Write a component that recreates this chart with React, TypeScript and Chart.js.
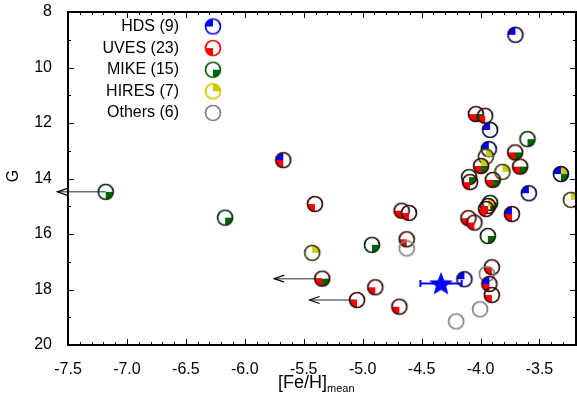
import React, { useEffect, useRef } from "react";
import { Chart, registerables } from "chart.js";
Chart.register(...registerables);

// ---- data ----
const xTickValues = [-7.5, -7.0, -6.5, -6.0, -5.5, -5.0, -4.5, -4.0, -3.5];
const yTickValues = [8, 10, 12, 14, 16, 18, 20];

const starFeH = [-3.704, -7.18, -6.167, -5.674, -5.405, -5.428, -5.343, -5.048, -4.921, -4.893, -4.689, -4.669, -4.607, -4.626, -4.626, -4.040, -3.961, -3.919, -3.930, -3.955, -3.995, -3.896, -3.814, -4.097, -4.089, -3.602, -3.706, -3.664, -3.318, -3.590, -3.233, -3.734, -3.919, -3.936, -3.953, -4.103, -4.052, -3.938, -3.904, -3.947, -3.925, -3.904, -4.137, -4.004, -4.207];
const starG = [8.82, 14.48, 15.41, 13.34, 14.92, 16.68, 17.61, 18.38, 16.39, 17.92, 18.62, 15.16, 15.24, 16.19, 16.52, 11.68, 11.74, 12.25, 12.94, 13.21, 13.55, 14.05, 13.76, 13.95, 14.13, 12.58, 13.06, 13.57, 13.84, 14.53, 14.77, 15.28, 14.88, 14.99, 15.10, 15.43, 15.59, 16.07, 17.20, 17.44, 17.80, 18.20, 17.63, 18.71, 19.15];
// H = HDS, U = UVES, M = MIKE, I = HIRES, O = Others
const starInst = ["H", "M", "M", "HU", "U", "I", "UM", "U", "M", "U", "U", "U", "U", "U", "O", "UM", "U", "H", "H", "I", "UMI", "UM", "I", "M", "U", "M", "UM", "UM", "HIM", "H", "I", "HU", "M", "UI", "U", "U", "U", "M", "U", "O", "HU", "U", "H", "O", "O"];

// upper limits on [Fe/H]
const limitFeH = [-7.18, -5.343, -5.048];
const limitG = [14.48, 17.61, 18.38];
const limitTo = [-7.59, -5.75, -5.45];

// target star
const targetFeH = [-4.335];
const targetG = [17.78];
const targetErrLo = [-4.51];
const targetErrHi = [-4.16];

const legendLabels = ["HDS (9)", "UVES (23)", "MIKE (15)", "HIRES (7)", "Others (6)"];
const legendKeys = ["H", "U", "M", "I", "O"];

// ---- styles ----
const FONT = "'Liberation Sans', Arial, Helvetica, sans-serif";
const FS = 16;
const COL: Record<string, string> = { H: "#0000ff", U: "#ff0000", M: "#006400", I: "#cccc00", O: "#808080" };
const QUAD: Record<string, [number, number]> = {
  H: [Math.PI, 1.5 * Math.PI],
  I: [1.5 * Math.PI, 2 * Math.PI],
  M: [0, 0.5 * Math.PI],
  U: [0.5 * Math.PI, Math.PI],
};

function outlineFor(inst: string): string {
  if (inst === "O") return "#808080";
  if (inst.includes("U")) return "#3a0808";
  if (inst.includes("H")) return "#080845";
  if (inst.includes("M")) return "#062a06";
  return "#3a3a08";
}

function makeMarker(inst: string, outline: string): HTMLCanvasElement {
  const c = document.createElement("canvas");
  c.width = 20;
  c.height = 20;
  const g = c.getContext("2d")!;
  const cx = 10, cy = 10, r = 7.5;
  for (const k of inst) {
    const q = QUAD[k];
    if (!q) continue;
    g.beginPath();
    g.moveTo(cx, cy);
    g.arc(cx, cy, r, q[0], q[1]);
    g.closePath();
    g.fillStyle = COL[k];
    g.fill();
  }
  g.beginPath();
  g.arc(cx, cy, r, 0, 2 * Math.PI);
  g.strokeStyle = outline;
  g.lineWidth = 1.7;
  g.stroke();
  return c;
}

function makeStar(): HTMLCanvasElement {
  const c = document.createElement("canvas");
  c.width = 28;
  c.height = 28;
  const g = c.getContext("2d")!;
  const cx = 14, cy = 15, R = 12.5, r = 5.4;
  g.beginPath();
  for (let i = 0; i < 10; i++) {
    const a = -Math.PI / 2 + (i * Math.PI) / 5;
    const rr = i % 2 === 0 ? R : r;
    const px = cx + rr * Math.cos(a), py = cy + rr * Math.sin(a);
    if (i === 0) g.moveTo(px, py);
    else g.lineTo(px, py);
  }
  g.closePath();
  g.fillStyle = "#0000ff";
  g.fill();
  return c;
}

export default function App() {
  const ref = useRef<HTMLCanvasElement | null>(null);

  useEffect(() => {
    document.body.style.margin = "0";
    const canvas = ref.current!;
    const markers = starInst.map((s) => makeMarker(s, outlineFor(s)));
    const legendMarkers = legendKeys.map((k) => makeMarker(k, COL[k]));
    const starImg = makeStar();

    const underlay = {
      id: "underlay",
      beforeDatasetsDraw(chart: any) {
        const { ctx, scales } = chart;
        const xs = scales.x, ys = scales.y;
        ctx.save();
        for (let i = 0; i < limitFeH.length; i++) {
          const x0 = xs.getPixelForValue(limitFeH[i]);
          const x1 = xs.getPixelForValue(limitTo[i]);
          const y = ys.getPixelForValue(limitG[i]);
          ctx.strokeStyle = "#707070";
          ctx.lineWidth = 1.5;
          ctx.beginPath();
          ctx.moveTo(x0, y);
          ctx.lineTo(x1, y);
          ctx.stroke();
          ctx.strokeStyle = "#000000";
          ctx.lineWidth = 1.2;
          ctx.beginPath();
          ctx.moveTo(x1 + 10, y - 3.5);
          ctx.lineTo(x1, y);
          ctx.lineTo(x1 + 10, y + 3.5);
          ctx.stroke();
        }
        for (let i = 0; i < targetFeH.length; i++) {
          const xa = xs.getPixelForValue(targetErrLo[i]);
          const xb = xs.getPixelForValue(targetErrHi[i]);
          const y = ys.getPixelForValue(targetG[i]);
          ctx.strokeStyle = "#0000ff";
          ctx.lineWidth = 2;
          ctx.beginPath();
          ctx.moveTo(xa, y);
          ctx.lineTo(xb, y);
          ctx.moveTo(xa, y - 3.5);
          ctx.lineTo(xa, y + 3.5);
          ctx.moveTo(xb, y - 3.5);
          ctx.lineTo(xb, y + 3.5);
          ctx.stroke();
        }
        ctx.restore();
      },
    };

    const overlay = {
      id: "overlay",
      afterDraw(chart: any) {
        const { ctx, chartArea, scales } = chart;
        const { left, right, top, bottom } = chartArea;
        const xs = scales.x, ys = scales.y;
        ctx.save();
        ctx.strokeStyle = "#000";
        ctx.lineWidth = 1;
        for (let v = -7.5; v <= -3.19; v += 0.1) {
          const val = Math.round(v * 10) / 10;
          const px = Math.round(xs.getPixelForValue(val)) + 0.5;
          const major = Math.abs(val * 2 - Math.round(val * 2)) < 1e-6;
          const len = major ? 6 : 3;
          ctx.beginPath();
          ctx.moveTo(px, bottom);
          ctx.lineTo(px, bottom - len);
          ctx.moveTo(px, top);
          ctx.lineTo(px, top + len);
          ctx.stroke();
        }
        for (let v = 8; v <= 20; v += 1) {
          const py = Math.round(ys.getPixelForValue(v)) + 0.5;
          const len = v % 2 === 0 ? 6 : 3;
          ctx.beginPath();
          ctx.moveTo(left, py);
          ctx.lineTo(left + len, py);
          ctx.moveTo(right, py);
          ctx.lineTo(right - len, py);
          ctx.stroke();
        }
        ctx.lineWidth = 2;
        ctx.strokeRect(left, top, right - left, bottom - top);

        // legend
        ctx.font = `${FS}px ${FONT}`;
        ctx.fillStyle = "#000";
        ctx.textAlign = "right";
        ctx.textBaseline = "middle";
        for (let i = 0; i < legendLabels.length; i++) {
          const y = 26.5 + i * 21.6;
          ctx.fillText(legendLabels[i], 179, y);
          ctx.drawImage(legendMarkers[i], 213 - 10, y - 10);
        }

        // axis titles
        ctx.textAlign = "center";
        ctx.save();
        ctx.translate(14, 176);
        ctx.rotate(-Math.PI / 2);
        ctx.fillText("G", 0, 0);
        ctx.restore();

        ctx.textAlign = "left";
        ctx.textBaseline = "alphabetic";
        const main = "[Fe/H]";
        ctx.font = `18px ${FONT}`;
        const w1 = ctx.measureText(main).width;
        const x0 = 278;
        ctx.fillText(main, x0, 388);
        ctx.font = `11px ${FONT}`;
        ctx.fillText("mean", x0 + w1, 392);
        ctx.restore();
      },
    };

    const chart = new Chart(canvas, {
      type: "scatter",
      data: {
        datasets: [
          {
            label: "stars",
            data: starFeH.map((x, i) => ({ x, y: starG[i] })),
            pointStyle: (c: any) => markers[c.dataIndex] as any,
            pointRadius: 8,
            clip: 0 as any,
          },
          {
            label: "target",
            data: targetFeH.map((x, i) => ({ x, y: targetG[i] })),
            pointStyle: starImg as any,
            pointRadius: 12,
            clip: 0 as any,
          },
        ],
      },
      options: {
        animation: false,
        responsive: false,
        devicePixelRatio: 1,
        events: [],
        layout: { autoPadding: false, padding: { top: 12, right: 1, left: 0, bottom: 0 } },
        plugins: { legend: { display: false }, tooltip: { enabled: false }, title: { display: false } },
        scales: {
          x: {
            type: "linear",
            min: -7.5,
            max: -3.19,
            grid: { display: false },
            border: { display: false },
            afterFit: (s: any) => {
              s.height = 52;
              s.paddingLeft = 0;
              s.paddingRight = 0;
            },
            afterBuildTicks: (s: any) => {
              s.ticks = xTickValues.map((v) => ({ value: v }));
            },
            ticks: {
              autoSkip: false,
              maxRotation: 0,
              padding: 7,
              color: "#000",
              font: { family: FONT, size: FS },
              callback: (v: any) => Number(v).toFixed(1),
            },
          },
          y: {
            type: "linear",
            min: 8,
            max: 20,
            reverse: true,
            grid: { display: false },
            border: { display: false },
            afterFit: (s: any) => {
              s.width = 68;
              s.paddingTop = 0;
              s.paddingBottom = 0;
            },
            afterBuildTicks: (s: any) => {
              s.ticks = yTickValues.map((v) => ({ value: v }));
            },
            ticks: {
              autoSkip: false,
              padding: 8,
              color: "#000",
              font: { family: FONT, size: FS },
              callback: (v: any) => String(v),
            },
          },
        },
      },
      plugins: [underlay, overlay],
    });
    return () => chart.destroy();
  }, []);

  return <canvas ref={ref} width={577} height={397} style={{ display: "block", width: 577, height: 397 }} />;
}
